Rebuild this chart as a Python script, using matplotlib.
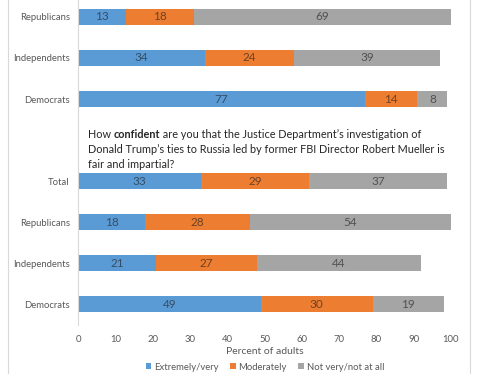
import matplotlib.pyplot as plt
from matplotlib.patches import Rectangle

plt.rcParams['font.family'] = ['Lato', 'DejaVu Sans']

# rows from bottom to top; "" is the empty slot holding the question
groups = ["Democrats", "Independents", "Republicans", "Total", "",
          "Democrats", "Independents", "Republicans"]
extremely = [49, 21, 18, 33, None, 77, 34, 13]
moderately = [30, 27, 28, 29, None, 14, 24, 18]
not_at_all = [19, 44, 54, 37, None, 8, 39, 69]

series = [("Extremely/very", extremely, "#5B9BD5"),
          ("Moderately", moderately, "#ED7D31"),
          ("Not very/not at all", not_at_all, "#A5A5A5")]

question = ["How ", "confident",
            " are you that the Justice Department\u2019s investigation of",
            "Donald Trump\u2019s ties to Russia led by former FBI Director Robert Mueller is",
            "fair and impartial?"]

fig = plt.figure(figsize=(4.99, 3.74), dpi=100)
ax = fig.add_axes([78 / 499, 49 / 374, 373 / 499, 325 / 374])

# light chart border
fig.patches.append(Rectangle((8 / 499, -0.05), 462 / 499, 1.2, transform=fig.transFigure,
                             fill=False, edgecolor="#D9D9D9", lw=0.8))

rows = [i for i in range(len(groups)) if groups[i]]
left = [0] * len(groups)
for name, vals, col in series:
    ws = [vals[i] for i in rows]
    ls = [left[i] for i in rows]
    ax.barh(rows, ws, left=ls, height=0.39, color=col, label=name)
    for y, w, l in zip(rows, ws, ls):
        ax.text(l + w / 2, y, str(w), ha="center", va="center",
                fontsize=8.5, color="#1a1a1a", alpha=0.6)
    for i in rows:
        left[i] += vals[i]

ax.set_xlim(0, 100)
ax.set_ylim(-0.5, 7.41)
ax.set_xticks(range(0, 101, 10))
ax.set_yticks(rows)
ax.set_yticklabels([groups[i] for i in rows])
ax.tick_params(axis="both", length=0, labelsize=6.8, labelcolor="#595959")
ax.tick_params(axis="x", pad=7)
ax.tick_params(axis="y", pad=6)
for s in ["top", "right", "bottom"]:
    ax.spines[s].set_visible(False)
ax.spines["left"].set_color("#D9D9D9")
ax.set_xlabel("Percent of adults", fontsize=7.5, color="#595959", labelpad=2)

# question text with bold keyword
qfs = 7.8
qcol = "#262626"
t0 = fig.text(88 / 499, 1 - 135 / 374, question[0], fontsize=qfs, color=qcol, va="center")
b = ax.annotate(question[1], xy=(1, 0), xycoords=t0, va="bottom", ha="left",
                fontsize=qfs, color=qcol, fontweight="bold")
ax.annotate(question[2], xy=(1, 0), xycoords=b, va="bottom", ha="left",
            fontsize=qfs, color=qcol)
fig.text(88 / 499, 1 - 149.5 / 374, question[3], fontsize=qfs, color=qcol, va="center")
fig.text(88 / 499, 1 - 164 / 374, question[4], fontsize=qfs, color=qcol, va="center")

fig.legend(loc="center", bbox_to_anchor=(265 / 499, 1 - 367 / 374), ncol=3, frameon=False,
           fontsize=6.8, labelcolor="#595959", handlelength=0.6, handleheight=0.6,
           handletextpad=0.3, columnspacing=1.2, borderpad=0)

fig.savefig("out.png", dpi=100, facecolor="white")
